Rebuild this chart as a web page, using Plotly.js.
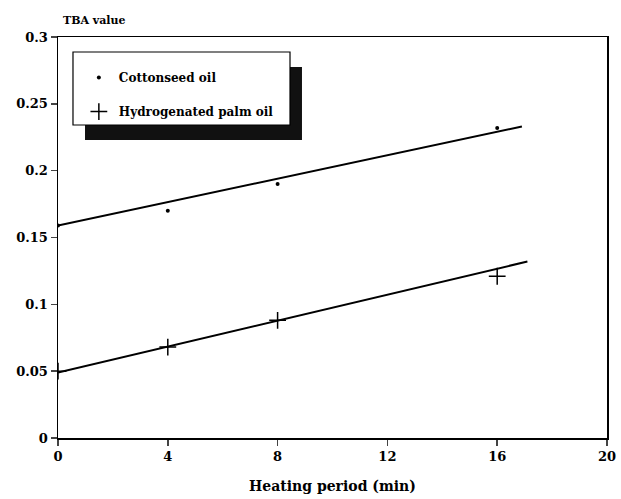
<!DOCTYPE html>
<html>
<head>
<meta charset="utf-8">
<script src="https://cdn.plot.ly/plotly-3.0.1.min.js"></script>
<style>html,body{margin:0;padding:0;background:#fff;}#chart{width:621px;height:499px;}</style>
</head>
<body>
<div id="chart"></div>
<script>
// Data
const heatingMin = [0, 4, 8, 16];
const cottonseedTBA = [0.159, 0.170, 0.190, 0.232];
const palmTBA = [0.050, 0.068, 0.088, 0.121];
const cottonFitX = [0, 16.9];
const cottonseedFit = [0.159, 0.233];
const palmFitX = [0, 17.1];
const palmFit = [0.049, 0.132];
const xTicks = [0, 4, 8, 12, 16, 20];
const yTicks = [0, 0.05, 0.1, 0.15, 0.2, 0.25, 0.3];
const yTickText = ['0', '0.05', '0.1', '0.15', '0.2', '0.25', '0.3'];

const font = 'DejaVu Serif, Liberation Serif, serif';

const traces = [
  {x: cottonFitX, y: cottonseedFit, mode: 'lines', line: {color: '#000', width: 2}, showlegend: false, hoverinfo: 'skip'},
  {x: palmFitX, y: palmFit, mode: 'lines', line: {color: '#000', width: 2}, showlegend: false, hoverinfo: 'skip'},
  {x: heatingMin, y: cottonseedTBA, mode: 'markers', name: 'Cottonseed oil', legendgroup: 'a',
   marker: {symbol: 'circle', size: 4, color: '#000'}},
  {x: heatingMin, y: palmTBA, mode: 'markers', name: 'Hydrogenated palm oil', legendgroup: 'b',
   marker: {symbol: 'cross-thin', size: 12, line: {color: '#000', width: 1.5}, color: '#000'}}
];

const layout = {
  width: 621, height: 499,
  margin: {l: 58, r: 14, t: 37, b: 61},
  paper_bgcolor: '#fff', plot_bgcolor: '#fff',
  font: {family: font, size: 13, color: '#000'},
  xaxis: {
    range: [0, 20], tickvals: xTicks, ticks: 'outside', ticklen: 6, tickwidth: 1.5,
    showline: true, linecolor: '#000', linewidth: 1.5, mirror: true, showgrid: false, zeroline: false,
    tickfont: {family: font, size: 13, weight: 'bold'},
    title: {text: 'Heating period (min)', font: {family: font, size: 14, weight: 'bold'}, standoff: 18}
  },
  yaxis: {
    range: [0, 0.3], tickvals: yTicks, ticktext: yTickText, ticks: 'outside', ticklen: 6, tickwidth: 1.5,
    showline: true, linecolor: '#000', linewidth: 1.5, mirror: true, showgrid: false, zeroline: false,
    tickfont: {family: font, size: 13, weight: 'bold'}
  },
  showlegend: true,
  legend: {
    x: 0.038, y: 0.935, xanchor: 'left', yanchor: 'top',
    bgcolor: 'rgba(0,0,0,0)', borderwidth: 0,
    font: {family: font, size: 12, weight: 'bold'},
    traceorder: 'grouped', tracegroupgap: 15
  },
  shapes: [
    {type: 'rect', xref: 'paper', yref: 'paper', x0: 0.0492, x1: 0.4444, y0: 0.7431, y1: 0.9252,
     fillcolor: '#111', line: {width: 0}, layer: 'above'},
    {type: 'rect', xref: 'paper', yref: 'paper', x0: 0.0273, x1: 0.4226, y0: 0.7805, y1: 0.9626,
     fillcolor: '#fff', line: {color: '#000', width: 1.2}, layer: 'above'}
  ],
  annotations: [
    {text: 'TBA value', xref: 'paper', yref: 'paper', x: 0.005, y: 1.0, xanchor: 'left', yanchor: 'bottom',
     yshift: 8, showarrow: false, font: {family: font, size: 11, weight: 'bold'}}
  ]
};

Plotly.newPlot('chart', traces, layout, {displayModeBar: false, staticPlot: true});
</script>
</body>
</html>
